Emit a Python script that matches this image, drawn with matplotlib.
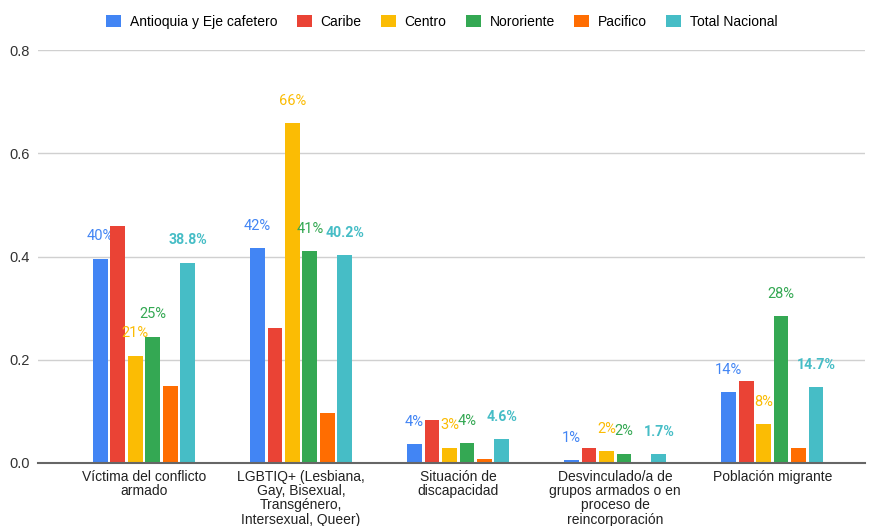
import numpy as np
import matplotlib
matplotlib.use("Agg")
import matplotlib.pyplot as plt

categories = ["Víctima del conflicto\narmado",
              "LGBTIQ+ (Lesbiana,\nGay, Bisexual,\nTransgénero,\nIntersexual, Queer)",
              "Situación de\ndiscapacidad",
              "Desvinculado/a de\ngrupos armados o en\nproceso de\nreincorporación",
              "Población migrante"]
series = ["Antioquia y Eje cafetero", "Caribe", "Centro", "Nororiente", "Pacifico", "Total Nacional"]

antioquia = [0.396, 0.416, 0.036, 0.006, 0.138]
caribe = [0.460, 0.261, 0.084, 0.030, 0.159]
centro = [0.208, 0.658, 0.030, 0.023, 0.076]
nororiente = [0.245, 0.410, 0.038, 0.018, 0.284]
pacifico = [0.149, 0.097, 0.007, 0.001, 0.029]
total = [0.388, 0.402, 0.046, 0.017, 0.147]

# label text per series (None = no label shown)
lbl_antioquia = ["40%", "42%", "4%", "1%", "14%"]
lbl_centro = ["21%", "66%", "3%", "2%", "8%"]
lbl_nororiente = ["25%", "41%", "4%", "2%", "28%"]
lbl_total = ["38.8%", "40.2%", "4.6%", "1.7%", "14.7%"]

colors = ["#4285F4", "#EA4335", "#FBBC04", "#34A853", "#FF6D01", "#46BDC6"]

values = [antioquia, caribe, centro, nororiente, pacifico, total]
labels = [lbl_antioquia, None, lbl_centro, lbl_nororiente, None, lbl_total]

fig = plt.figure(figsize=(8.75, 5.26), dpi=100)
ax = fig.add_axes([38/875, 63/526, 827/875, 413/526])

x = np.arange(len(categories))
pitch = 0.111
width = 0.094
handles = []
for i, (vals, c) in enumerate(zip(values, colors)):
    xs = x + (i - 2.5) * pitch
    b = ax.bar(xs, vals, width, color=c, zorder=3, label=series[i])
    handles.append(b)
    if labels[i] is not None:
        bold = (i == 5)
        for xx, v, t in zip(xs, vals, labels[i]):
            ax.annotate(t, (xx, v), xytext=(0, 16), textcoords="offset points",
                        ha="center", va="center", color=c,
                        fontsize=10.2 if bold else 10.5,
                        fontfamily="Roboto", fontweight="bold" if bold else "normal")

ax.set_xlim(-0.675, 4.59)
ax.set_ylim(0, 0.8)
ax.set_yticks([0, 0.2, 0.4, 0.6, 0.8])
ax.set_yticklabels(["0.0", "0.2", "0.4", "0.6", "0.8"], fontfamily="Liberation Sans", fontsize=10.5)
ax.set_xticks(x)
ax.set_xticklabels(categories, fontfamily="Liberation Sans", fontsize=10, linespacing=1.02, va="top")
ax.tick_params(axis="x", length=0, pad=5)
ax.tick_params(axis="y", length=0, pad=6, colors="#333333")
ax.tick_params(axis="x", colors="#222222")
ax.grid(axis="y", color="#d0d0d0", linewidth=1, zorder=0)
for s in ["top", "right", "left"]:
    ax.spines[s].set_visible(False)
ax.spines["bottom"].set_color("#666666")
ax.spines["bottom"].set_linewidth(1.5)
ax.spines["bottom"].set_zorder(4)

fig.legend(handles, series, loc="upper center", bbox_to_anchor=(0.505, 0.995), ncol=6,
           frameon=False, handlelength=1.08, handleheight=0.94, handletextpad=0.65,
           columnspacing=1.37, prop={"family": "Liberation Sans", "size": 10})

fig.savefig("out.png", dpi=100)
